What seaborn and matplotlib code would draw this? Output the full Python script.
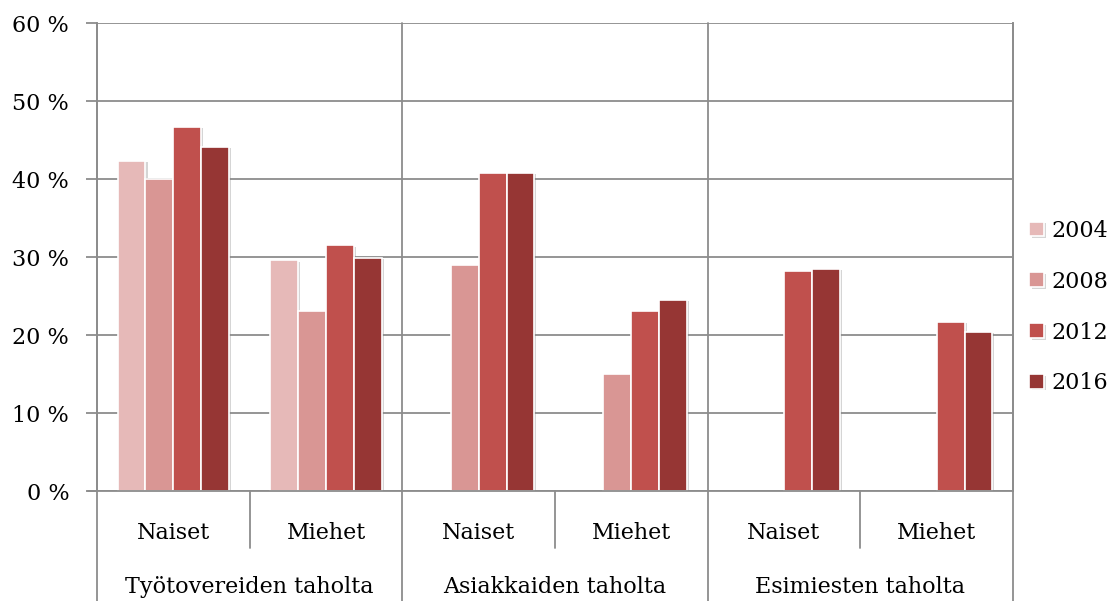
import numpy as np
import pandas as pd
import matplotlib
matplotlib.use("Agg")
import matplotlib.pyplot as plt
import matplotlib.patheffects as pe
import seaborn as sns
from matplotlib.ticker import FuncFormatter, MultipleLocator

groups = ["Työtovereiden taholta", "Asiakkaiden taholta", "Esimiesten taholta"]
genders = ["Naiset", "Miehet"]
years = ["2004", "2008", "2012", "2016"]
nan = np.nan
v2004 = [42.3, 29.6, nan, nan, nan, nan]
v2008 = [40.0, 23.1, 29.0, 15.0, nan, nan]
v2012 = [46.7, 31.5, 40.8, 23.1, 28.2, 21.7]
v2016 = [44.1, 29.9, 40.8, 24.5, 28.5, 20.4]
colors = ["#E6B9B8", "#D99694", "#C0504D", "#963634"]

cats = [f"{g}|{s}" for g in groups for s in genders]
rows = []
for yr, vals in zip(years, [v2004, v2008, v2012, v2016]):
    for c, v in zip(cats, vals):
        rows.append({"cat": c, "year": yr, "value": v})
df = pd.DataFrame(rows)

sns.set_style("white")
plt.rcParams["font.family"] = ["DejaVu Serif"]
plt.rcParams["text.color"] = "black"
plt.rcParams["xtick.labelcolor"] = "black"
plt.rcParams["ytick.labelcolor"] = "black"
grid_c = "#8C8C8C"
fs = 16

fig = plt.figure(figsize=(11.15, 6.01), dpi=100)
ax = fig.add_axes([97/1115, 1-491/601, 916/1115, 468/601])

sns.barplot(data=df, x="cat", y="value", hue="year", order=cats, hue_order=years,
            palette=colors, saturation=1, width=0.73, edgecolor="white", linewidth=1.2,
            ax=ax, zorder=3)
for p in ax.patches:
    p.set_path_effects([pe.SimplePatchShadow(offset=(1.5, -1), shadow_rgbFace="#888888", alpha=0.35),
                        pe.Normal()])

ax.set_ylim(0, 60)
ax.set_xlim(-0.5, 5.5)
ax.yaxis.set_major_locator(MultipleLocator(10))
ax.yaxis.set_major_formatter(FuncFormatter(lambda v, p: f"{int(v)} %"))
ax.grid(axis="y", color=grid_c, linewidth=1.3, zorder=0)
ax.set_axisbelow(True)
for sp in ["top", "bottom"]:
    ax.spines[sp].set_visible(False)
for sp in ["left", "right"]:
    ax.spines[sp].set_color(grid_c)
    ax.spines[sp].set_linewidth(1.3)
ax.tick_params(axis="y", length=8, width=1.3, color=grid_c, labelsize=fs, pad=12,
               left=True, labelcolor="black")
ax.tick_params(axis="x", length=0, labelsize=fs, pad=22, labelcolor="black")
ax.set_xticks(range(len(cats)))
ax.set_xticklabels([c.split("|")[1] for c in cats])
ax.set_xlabel("")
ax.set_ylabel("")

# bottom axis line and category dividers
tr = ax.transAxes
ax.plot([-9/916, 1], [0, 0], color=grid_c, lw=1.3, transform=tr, clip_on=False, zorder=4)
for i in range(len(groups) + 1):
    x = i / len(groups)
    ax.plot([x, x], [0, 1], color=grid_c, lw=1.3, transform=tr, clip_on=False, zorder=1)
    ax.plot([x, x], [0, -0.25], color=grid_c, lw=1.3, transform=tr, clip_on=False)
for i in range(len(groups)):
    x = (i + 0.5) / len(groups)
    ax.plot([x, x], [0, -0.122], color=grid_c, lw=1.3, transform=tr, clip_on=False)
    ax.text(x, -0.205, groups[i], transform=tr, ha="center", va="center",
            fontsize=fs, color="black")

leg = ax.legend(loc="center left", bbox_to_anchor=(1.018, 0.393), frameon=False,
                fontsize=fs, handlelength=0.65, handleheight=0.65, handletextpad=0.35,
                labelspacing=1.3, borderpad=0, borderaxespad=0)
for t in leg.get_texts():
    t.set_color("black")

fig.savefig("out.png", dpi=100)
